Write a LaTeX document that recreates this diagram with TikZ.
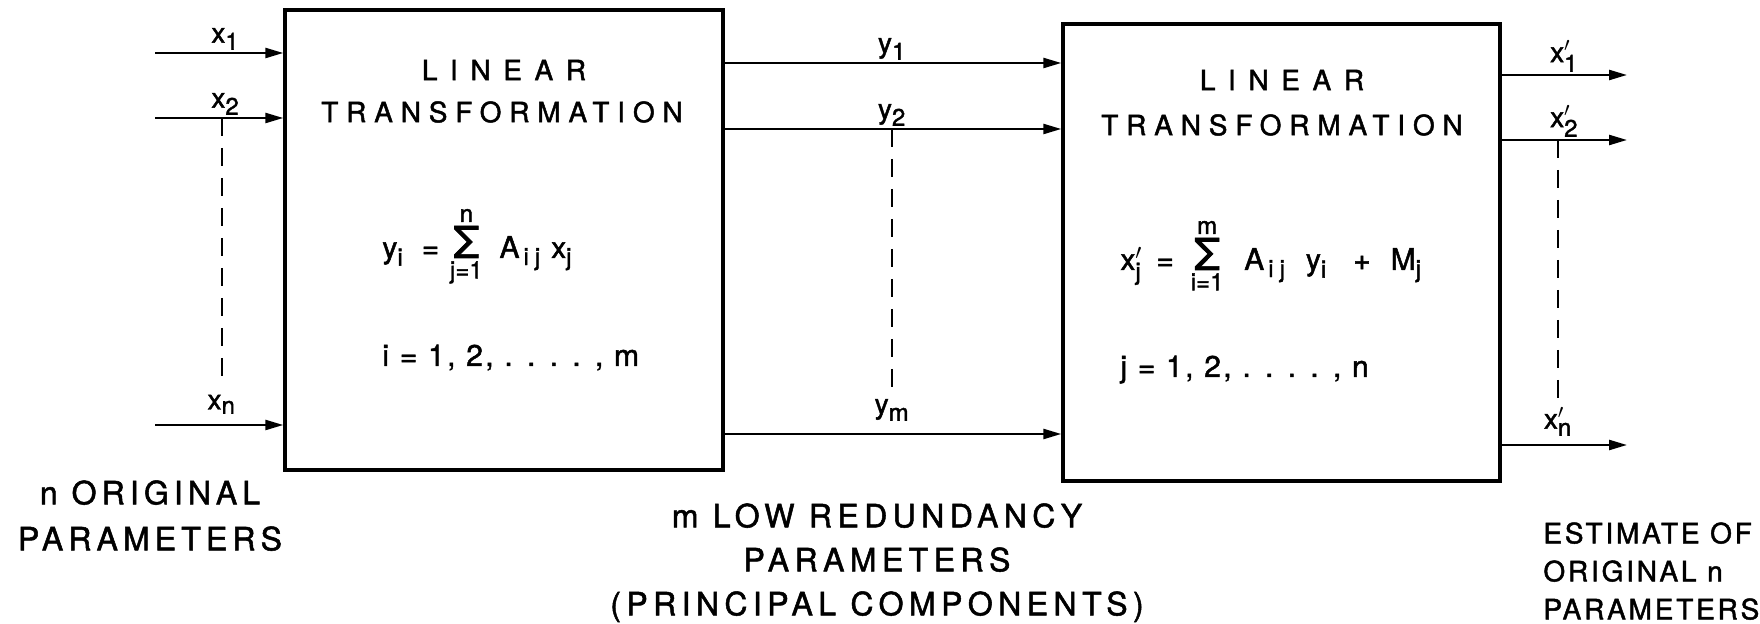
\documentclass[tikz,border=0pt]{standalone}
\usepackage{fontspec}
\setmainfont{TeX Gyre Heros}[FakeBold=1.6]
\usetikzlibrary{arrows.meta,positioning,calc}
\newcommand{\trk}[1]{\addfontfeatures{LetterSpace=#1}}
\newcommand{\sfs}{\fontsize{12}{12}\selectfont}
\newcommand{\lbx}[2]{$\hbox{#1}_{\hbox{\sfs #2}}$}
\newcommand{\lbxp}[2]{$\hbox{#1}^{\prime}_{\hbox{\sfs #2}}$}
\newcommand{\sgm}{\mathop{\hbox{\fontsize{22}{22}\selectfont Σ}}}
\tikzset{
  tbox/.style={draw, line width=1.7pt, inner sep=0pt},
  ttl/.style={inner sep=0pt, font=\fontsize{14}{14}\selectfont},
  eqn/.style={anchor=base west, inner sep=0pt, font=\fontsize{15}{16}\selectfont},
  arr/.style={-{Triangle[length=9pt,width=5pt]}, line width=1.2pt},
  dsh/.style={line width=1.1pt, dash pattern=on 9pt off 6pt, shorten >=4pt},
  lbl/.style={above=1pt, inner sep=0pt, font=\fontsize{14}{14}\selectfont},
  note/.style={anchor=north, inner sep=0pt, align=center}
}
\begin{document}
\begin{tikzpicture}[x=0.5pt,y=-0.5pt]
\useasboundingbox (0,0) rectangle (1760,624);

% transformation blocks
\node[tbox, minimum width=219pt, minimum height=230pt] (lt1) at (504,240) {};
\node[tbox, minimum width=218.5pt, minimum height=228.5pt] (lt2) at (1281.5,252.5) {};

\node[ttl] (h1a) at (504,70) {\trk{45}LINEAR};
\node[ttl] (h1b) at (502,112) {\trk{28}TRANSFORMATION};
\node[ttl] (h2a) at (1282,80) {\trk{45}LINEAR};
\node[ttl] (h2b) at (1282,125) {\trk{28}TRANSFORMATION};

\node[eqn] (e1) at (382,258) {$\hbox{y}_{\hbox{\sfs i}}\hskip9pt\hbox{=}\hskip3pt\sgm\limits_{\hbox{\sfs j=1}}^{\hbox{\sfs n}}\hskip6pt\hbox{A}_{\hbox{\sfs\hskip2pt i\hskip3pt j}}\hskip5pt\hbox{x}_{\hbox{\sfs j}}$};
\node[eqn] (r1) at (382,366) {\trk{8}i = 1, 2, . . . . , m};
\node[eqn] (e2) at (1120,270) {$\hbox{x}^{\prime}_{\hbox{\sfs j}}\hskip7pt\hbox{=}\hskip6pt\sgm\limits_{\hbox{\sfs i=1}}^{\hbox{\sfs m}}\hskip8pt\hbox{A}_{\hbox{\sfs\hskip2pt i\hskip3pt j}}\hskip10pt\hbox{y}_{\hbox{\sfs i}}\hskip13pt\hbox{+}\hskip10pt\hbox{M}_{\hbox{\sfs j}}$};
\node[eqn] (r2) at (1120,377) {\trk{8}j = 1, 2, . . . . , n};

% inputs
\coordinate (i1) at (155,53);
\coordinate (i2) at (155,118);
\coordinate (i3) at (155,425);
\draw[arr] (i1) -- (i1 -| lt1.west) node[lbl, pos=0.55] (lx1) {\lbx{x}{1}};
\draw[arr] (i2) -- (i2 -| lt1.west) node[lbl, pos=0.55] (lx2) {\lbx{x}{2}};
\draw[arr] (i3) -- (i3 -| lt1.west) node[lbl, pos=0.52, above=5pt] (lxn) {\lbx{x}{n}};
\draw[dsh] (lxn.north |- i2) -- (lxn.north);

% principal components
\coordinate (m1) at (723,63);
\coordinate (m2) at (723,129);
\coordinate (m3) at (723,434);
\draw[arr] (m1) -- (m1 -| lt2.west) node[lbl, pos=0.5] (ly1) {\lbx{y}{1}};
\draw[arr] (m2) -- (m2 -| lt2.west) node[lbl, pos=0.5] (ly2) {\lbx{y}{2}};
\draw[arr] (m3) -- (m3 -| lt2.west) node[lbl, pos=0.5, above=6pt] (lym) {\lbx{y}{m}};
\draw[dsh] (lym.north |- m2) -- (lym.north);

% outputs
\coordinate (o1) at (1627,75);
\coordinate (o2) at (1627,140);
\coordinate (o3) at (1627,445);
\draw[arr] (o1 -| lt2.east) -- (o1) node[lbl, pos=0.5] (lo1) {\lbxp{x}{1}};
\draw[arr] (o2 -| lt2.east) -- (o2) node[lbl, pos=0.5] (lo2) {\lbxp{x}{2}};
\draw[arr] (o3 -| lt2.east) -- (o3) node[lbl, pos=0.45, above=4pt] (lon) {\lbxp{x}{n}};
\draw[dsh] (lon.north |- o2) -- (lon.north);

% captions
\node[note, font=\fontsize{16}{23}\selectfont\trk{16}] (c1) at (150,480) {n ORIGINAL\\PARAMETERS};
\node[note, font=\fontsize{16}{22}\selectfont\trk{17}] (c2) at (877,503) {m LOW REDUNDANCY\\PARAMETERS\\(PRINCIPAL COMPONENTS)};
\node[note, anchor=north west, align=left, font=\fontsize{14}{19}\selectfont\trk{10}] (c3) at (1543,522) {ESTIMATE OF\\ORIGINAL n\\PARAMETERS};
\end{tikzpicture}
\end{document}
